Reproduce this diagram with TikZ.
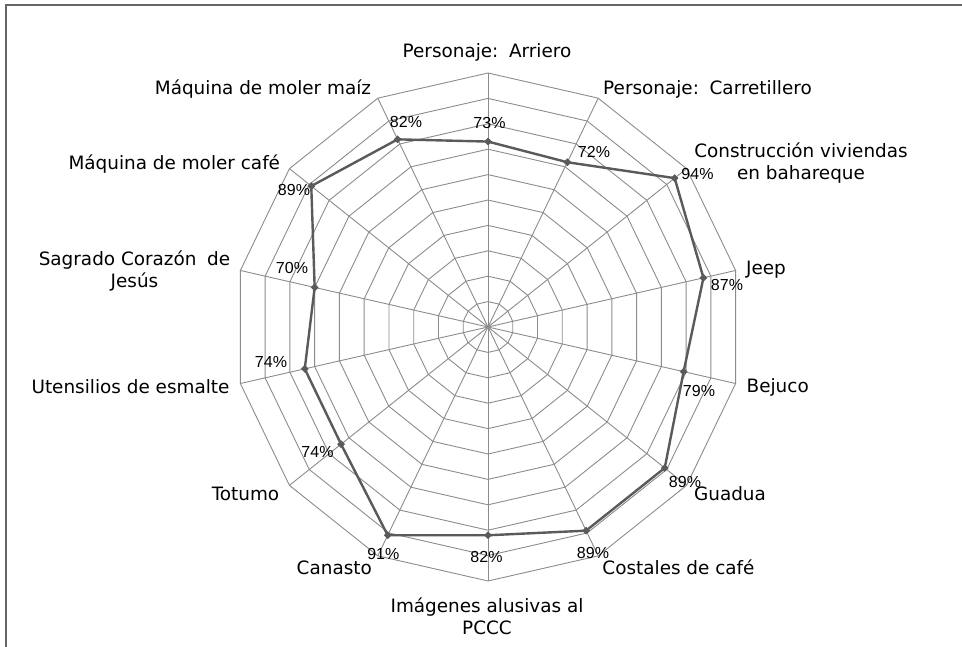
\documentclass[tikz,border=0pt]{standalone}
\usepackage{fontspec}
\setmainfont{DejaVu Sans}
\newfontfamily\pctfont{Liberation Sans}
\usetikzlibrary{shapes.geometric}
\definecolor{gridc}{HTML}{8C8C8C}
\definecolor{datac}{HTML}{5A5A5A}
\definecolor{framec}{HTML}{666666}
\begin{document}
\begin{tikzpicture}[x=1pt,y=-1pt,
  lbl/.style={font=\fontsize{18.4}{22}\selectfont, inner sep=0pt, align=center},
  pct/.style={font=\pctfont\fontsize{16}{18}\selectfont, inner sep=0pt},
  gridline/.style={draw=gridc, line width=0.9pt, line join=miter},
  dataline/.style={draw=datac, line width=2.4pt, line join=round},
  marker/.style={diamond, fill=datac, inner sep=0pt, minimum size=8pt},
  framel/.style={draw=framec, line width=1.6pt}]
\useasboundingbox (0,0) rectangle (962,647);
\fill[white] (0,0) rectangle (962,647);
\draw[framel] (6,647) -- (6,5) -- (962,5);
\coordinate (O) at (488,327);
% grid rings
\foreach \i in {1,...,10}{
  \draw[gridline] ({488},{327-25.4*\i})
    \foreach \k in {1,...,13}{ -- ({488+25.4*\i*cos(90-\k*360/14)},{327-25.4*\i*sin(90-\k*360/14)}) } -- cycle;
}
% spokes
\foreach \k in {0,...,13}{
  \coordinate (a\k) at ({488+254*cos(90-\k*360/14)},{327-254*sin(90-\k*360/14)});
  \draw[gridline] (O) -- (a\k);
}
% data
\foreach \v [count=\k from 0] in {73,72,94,87,79,89,89,82,91,74,74,70,89,82}{
  \coordinate (p\k) at ({488+2.54*\v*cos(90-\k*360/14)},{327-2.54*\v*sin(90-\k*360/14)});
}
\draw[dataline] (p0) \foreach \k in {1,...,13}{ -- (p\k)} -- cycle;
\foreach \k in {0,...,13}{ \node[marker] (m\k) at (p\k) {}; }
% category labels
\node[lbl] (l0) at (487,52) {Personaje:\hspace{0.58em}Arriero};
\node[lbl] (l1) at (707.5,89) {Personaje:\hspace{0.58em}Carretillero};
\node[lbl] (l2) at (801,163.5) {Construcción viviendas\\en bahareque};
\node[lbl] (l3) at (766,270) {Jeep};
\node[lbl] (l4) at (777.7,387) {Bejuco};
\node[lbl] (l5) at (730,493.7) {Guadua};
\node[lbl] (l6) at (678.5,567.7) {Costales de café};
\node[lbl] (l7) at (487,616) {Imágenes alusivas al\\PCCC};
\node[lbl] (l8) at (334.3,567.7) {Canasto};
\node[lbl] (l9) at (245.5,493.7) {Totumo};
\node[lbl] (l10) at (130.5,387) {Utensilios de esmalte};
\node[lbl] (l11) at (134.5,270.5) {Sagrado Corazón\hspace{0.58em}de\\Jesús};
\node[lbl] (l12) at (174.3,164) {Máquina de moler café};
\node[lbl] (l13) at (263,89) {Máquina de moler maíz};
% value labels
\node[pct] (v0) at (489.5,123) {73\%};
\node[pct] (v1) at (594,152) {72\%};
\node[pct] (v2) at (697.5,174) {94\%};
\node[pct] (v3) at (727,285) {87\%};
\node[pct] (v4) at (699,391) {79\%};
\node[pct] (v5) at (685,482) {89\%};
\node[pct] (v6) at (593,553) {89\%};
\node[pct] (v7) at (486.5,557) {82\%};
\node[pct] (v8) at (383.3,553.7) {91\%};
\node[pct] (v9) at (317.5,452.3) {74\%};
\node[pct] (v10) at (271,361.7) {74\%};
\node[pct] (v11) at (292,268.3) {70\%};
\node[pct] (v12) at (294,190) {89\%};
\node[pct] (v13) at (406,122) {82\%};
\end{tikzpicture}
\end{document}
